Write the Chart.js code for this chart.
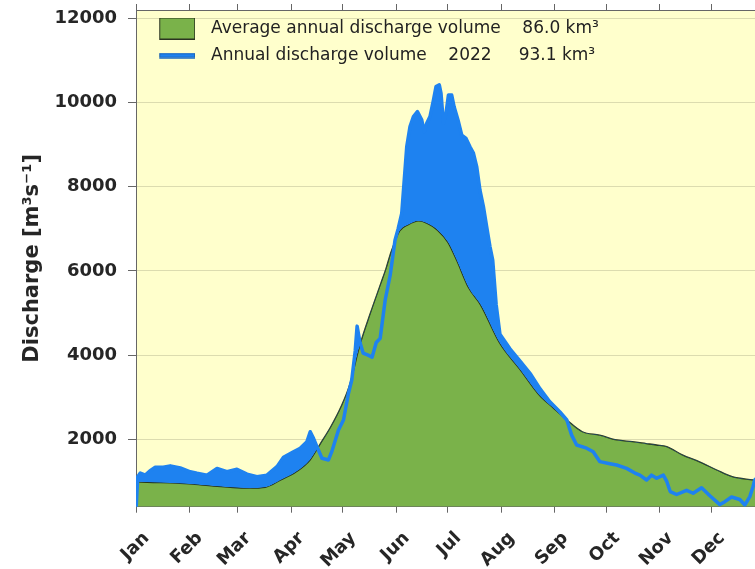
<!DOCTYPE html>
<html><head><meta charset="utf-8">
<script src="https://cdn.jsdelivr.net/npm/chart.js@4"></script>
<style>
html,body{margin:0;padding:0;background:#fff;overflow:hidden;width:755px;height:569px}
#wrap{width:770px;height:569px}
</style>
</head><body><div id="wrap"><canvas id="c" width="770" height="569"></canvas></div>
<script>
// ---- data ----
const monthNames = ['Jan','Feb','Mar','Apr','May','Jun','Jul','Aug','Sep','Oct','Nov','Dec'];
const monthStartDays = [0,31,59,90,120,151,181,212,243,273,304,334];
const yTicks = [2000,4000,6000,8000,10000,12000];

// average daily discharge (day of year, m3/s)
const avgDays = [0,10,20,31,45,59,66,75,84,93,101,107,113,119,124,130,136,142,145,148,153,158,164,169,175,181,186,193,200,211,223,234,242,250,259,269,279,288,296,302,308,317,327,337,346,358,365];
const avgFlow = [990,975,965,940,890,850,840,860,1035,1230,1510,1900,2300,2780,3300,4250,5000,5700,6050,6450,6950,7100,7190,7130,6970,6680,6260,5600,5190,4290,3650,3050,2750,2460,2180,2100,1985,1945,1900,1866,1826,1630,1467,1272,1113,1035,990];

// 2022 daily discharge (day of year, m3/s)
const q2022Days = [0,1,2.5,5.4,8,11.2,15.8,19.9,25.7,31.5,35.4,41.2,47,52.8,58.6,64.4,70.2,76,81.8,85.6,91.4,95.3,99.2,101.1,103,105,107.9,111.7,113.6,117.5,120.4,123.3,125.2,127.2,128.3,130,131.8,134.7,137,139.4,141.7,144.6,147.5,150.3,152.1,154.2,157.1,159,161,163.3,165.8,167.2,168.7,170.6,172.6,174.1,176,177,178.4,179.9,181.3,183.2,184.6,187.1,189,191.5,193.8,195.8,197.7,199.6,201.6,203.5,205.4,207,209,211.2,217,223,229,234.5,240,246,250,252.8,255.7,261.5,265.3,269.2,275,278.9,284.7,289.5,292.4,296.3,299.2,302.1,306,308,310,313.7,319.5,323.3,328.2,333,338.8,341.7,345.6,350.4,353.3,356.2,358.1,359,362];
const q2022Flow = [300,1110,1200,1150,1250,1340,1340,1370,1320,1230,1195,1150,1310,1230,1290,1175,1113,1150,1350,1575,1707,1790,1945,2180,2025,1825,1550,1510,1707,2220,2460,3095,3410,4100,4690,4300,4050,4000,3950,4300,4400,5310,5900,6730,7000,7370,8950,9430,9670,9785,9590,9310,9510,9670,10060,10380,10420,10220,9510,9750,10180,10180,9900,9550,9230,9150,8950,8800,8480,7920,7530,7050,6580,6260,5200,4500,4150,3850,3550,3200,2900,2650,2460,2100,1865,1790,1707,1470,1420,1390,1310,1200,1150,1035,1150,1075,1150,1000,760,690,790,720,850,660,450,520,630,570,440,640,880,1035,1150];

const legendAvgText = 'Average annual discharge volume    86.0 km\u00B3';
const legend2022Text = 'Annual discharge volume    2022     93.1 km\u00B3';

// ---- styles ----
const GREEN = '#7AB24A';
const GREEN_EDGE = '#26331a';
const BLUE = '#1E82F0';
const PLOT_BG = '#FFFFCC';
const AXIS = '#666666';
const TEXT = '#262626';

function makeSwatch(w, h, off, sw, sh, fill, stroke) {
  const c = document.createElement('canvas');
  c.width = w; c.height = h;
  const g = c.getContext('2d');
  g.fillStyle = fill;
  g.fillRect(off, (h - sh) / 2, sw, sh);
  g.strokeStyle = stroke; g.lineWidth = 1;
  g.strokeRect(off + 0.5, (h - sh) / 2 + 0.5, sw - 1, sh - 1);
  return c;
}
const greenSwatch = makeSwatch(42, 22, 6, 36, 22, GREEN, '#2a3320');
const blueSwatch = makeSwatch(42, 6, 6, 36, 5, BLUE, '#1b5fae');

const bgPlugin = {
  id: 'bg',
  beforeDraw(chart) {
    const {ctx, chartArea: a} = chart;
    ctx.save();
    ctx.fillStyle = '#ffffff';
    ctx.fillRect(0, 0, chart.width, chart.height);
    ctx.fillStyle = PLOT_BG;
    ctx.fillRect(a.left, a.top, a.right - a.left, a.bottom - a.top);
    ctx.restore();
  }
};
// place the in-plot legend relative to the plot area top
const legendShift = {
  id: 'legendShift',
  afterLayout(chart) {
    const l = chart.legend;
    if (l) {
      const dy = chart.chartArea.top - l.top;
      l.top += dy; l.bottom += dy;
    }
  }
};

const monthTicks = s => { s.ticks = monthStartDays.map(v => ({value: v})); };
const noPad = s => { s.paddingTop = 0; s.paddingBottom = 0; s.paddingLeft = 0; s.paddingRight = 0; };

new Chart(document.getElementById('c'), {
  type: 'line',
  data: {
    datasets: [
      {
        label: 'Average',
        data: avgDays.map((d, i) => ({x: d, y: avgFlow[i]})),
        borderColor: GREEN_EDGE, borderWidth: 1.3,
        backgroundColor: GREEN, fill: 'start',
        pointRadius: 0, cubicInterpolationMode: 'monotone', order: 2
      },
      {
        label: '2022',
        data: q2022Days.map((d, i) => ({x: d, y: q2022Flow[i]})),
        borderColor: BLUE, borderWidth: 3.5, borderJoinStyle: 'round',
        backgroundColor: BLUE,
        fill: {target: 0, above: BLUE, below: 'rgba(0,0,0,0)'},
        pointRadius: 0, tension: 0, order: 1
      }
    ]
  },
  options: {
    responsive: false, animation: false, devicePixelRatio: 1, events: [],
    layout: {padding: {top: 4, right: 5, left: 0, bottom: 0}},
    plugins: {
      tooltip: {enabled: false},
      legend: {
        position: 'chartArea', align: 'start',
        labels: {
          usePointStyle: true, pointStyleWidth: 56.5, padding: 10,
          font: {family: 'DejaVu Sans', size: 17}, color: '#222',
          generateLabels: () => [
            {text: legendAvgText, pointStyle: greenSwatch, datasetIndex: 0, hidden: false, lineWidth: 0, fillStyle: GREEN, strokeStyle: GREEN_EDGE, fontColor: '#222'},
            {text: legend2022Text, pointStyle: blueSwatch, datasetIndex: 1, hidden: false, lineWidth: 0, fillStyle: BLUE, strokeStyle: BLUE, fontColor: '#222'}
          ]
        }
      }
    },
    scales: {
      x: {
        type: 'linear', position: 'bottom', min: 0, max: 365,
        afterBuildTicks: monthTicks,
        afterFit: s => { s.height = 62.3; noPad(s); },
        ticks: {
          autoSkip: false, minRotation: 45, maxRotation: 45, labelOffset: 10.5, padding: 15,
          font: {family: 'DejaVu Sans', size: 18, weight: 'bold'}, color: TEXT,
          callback: v => monthNames[monthStartDays.indexOf(v)]
        },
        grid: {drawOnChartArea: false, tickLength: 6, tickColor: AXIS, color: AXIS},
        border: {display: true, color: AXIS, width: 1}
      },
      x2: {
        type: 'linear', position: 'top', min: 0, max: 365,
        afterBuildTicks: monthTicks,
        afterFit: s => { s.height = 6; noPad(s); },
        ticks: {display: false},
        grid: {drawOnChartArea: false, tickLength: 6, tickColor: AXIS, color: AXIS},
        border: {display: true, color: AXIS, width: 1}
      },
      y: {
        type: 'linear', position: 'left', min: 400, max: 12200,
        afterBuildTicks: s => { s.ticks = yTicks.map(v => ({value: v})); },
        afterFit: s => { s.width = 136; noPad(s); },
        ticks: {
          font: {family: 'DejaVu Sans', size: 18, weight: 'bold'}, color: TEXT, padding: 11,
          callback: v => String(v)
        },
        grid: {color: 'rgba(130,130,100,0.28)', tickColor: AXIS, tickLength: 8, lineWidth: 1},
        border: {display: true, color: AXIS, width: 1},
        title: {
          display: true, text: 'Discharge [m\u00B3s\u207B\u00B9]',
          font: {family: 'DejaVu Sans', size: 21, weight: 'bold'}, color: TEXT,
          padding: {top: 20, bottom: 0}
        }
      }
    }
  },
  plugins: [bgPlugin, legendShift]
});
</script>
</body></html>
